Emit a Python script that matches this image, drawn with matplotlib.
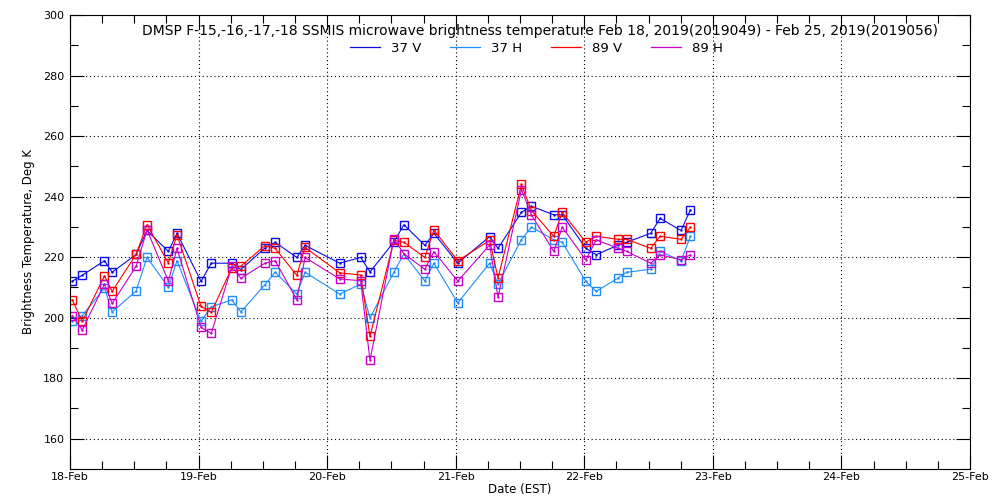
import numpy as np
import matplotlib
matplotlib.use('Agg')
import matplotlib.pyplot as plt
from matplotlib.ticker import MultipleLocator

# time in days after 18-Feb-2019 00:00 (EST)
t = [0.017, 0.095, 0.268, 0.328, 0.514, 0.599, 0.765, 0.832,
     1.019, 1.099, 1.259, 1.329, 1.516, 1.596, 1.764, 1.828,
     2.098, 2.261, 2.333, 2.519, 2.597, 2.760, 2.830,
     3.016, 3.264, 3.329, 3.511, 3.589, 3.762, 3.829,
     4.012, 4.093, 4.259, 4.329, 4.517, 4.590, 4.753, 4.826]

tb_37v = [212.0, 214.0, 218.8, 215.0, 220.9, 228.8, 221.9, 227.9,
          212.0, 218.0, 218.0, 215.9, 223.0, 224.9, 219.9, 223.9,
          218.0, 219.9, 215.1, 225.0, 230.7, 223.9, 227.9,
          218.0, 226.8, 222.9, 234.8, 236.8, 234.0, 234.0,
          222.9, 220.8, 223.9, 224.9, 227.9, 232.8, 228.8, 235.7]

tb_37h = [198.8, 200.7, 209.8, 201.9, 208.8, 219.9, 210.1, 218.8,
          198.8, 203.6, 205.9, 201.9, 210.9, 215.0, 207.8, 215.0,
          207.8, 211.1, 199.9, 215.0, 221.1, 212.1, 218.0,
          204.9, 218.0, 211.1, 225.8, 229.9, 225.8, 224.9,
          212.0, 208.7, 213.0, 215.0, 216.0, 221.9, 218.8, 226.9]

tb_89v = [205.9, 198.8, 213.8, 208.7, 220.9, 230.7, 218.1, 227.4,
          203.7, 201.8, 216.5, 217.0, 223.8, 222.9, 214.0, 223.2,
          214.8, 214.1, 193.8, 225.5, 224.9, 219.9, 229.0,
          218.8, 225.5, 213.1, 244.0, 235.4, 226.9, 234.8,
          224.9, 226.9, 225.9, 225.9, 222.9, 226.9, 225.9, 229.9]

tb_89h = [200.7, 195.9, 211.1, 204.7, 217.0, 229.0, 212.1, 222.9,
          196.8, 194.8, 217.0, 213.0, 218.0, 218.8, 205.9, 219.9,
          212.8, 212.2, 185.9, 226.0, 221.1, 216.0, 221.8,
          212.1, 224.0, 206.7, 242.3, 234.0, 221.9, 229.9,
          219.1, 225.7, 223.0, 221.9, 218.0, 220.8, 219.1, 220.8]

day_labels = ['18-Feb', '19-Feb', '20-Feb', '21-Feb', '22-Feb', '23-Feb', '24-Feb', '25-Feb']

title = ('DMSP F-15,-16,-17,-18 SSMIS microwave brightness temperature '
         'Feb 18, 2019(2019049) - Feb 25, 2019(2019056)')

series = [
    ('37 V', tb_37v, '#0a0ae6'),
    ('37 H', tb_37h, '#1e8cff'),
    ('89 V', tb_89v, '#ff0000'),
    ('89 H', tb_89h, '#c800c8'),
]

fig = plt.figure(figsize=(10, 5), dpi=100)
ax = fig.add_axes([0.070, 0.062, 0.900, 0.908])

for name, vals, col in series:
    ax.plot(t, vals, color=col, lw=0.8, marker='s', markersize=5.5,
            markerfacecolor='none', markeredgecolor=col, markeredgewidth=1.0,
            label=name)
    ax.plot(t, vals, color=col, lw=0, marker='.', markersize=1.5)

ax.set_xlim(0, 7)
ax.set_ylim(150, 300)
ax.set_xticks(np.arange(0, 8))
ax.set_xticklabels(day_labels)
ax.xaxis.set_minor_locator(MultipleLocator(0.25))
ax.yaxis.set_minor_locator(MultipleLocator(10))
ax.set_yticks(np.arange(160, 301, 20))

ax.tick_params(which='both', direction='in', top=True, right=True,
               labelsize=8, color='black', width=0.8)
ax.tick_params(which='major', length=10)
ax.tick_params(which='minor', length=6)
ax.tick_params(axis='x', which='major', pad=2)
ax.tick_params(axis='y', which='major', pad=4)

ax.grid(True, which='major', color='black', linestyle=(0, (1, 2.5)), linewidth=0.8)
for s in ax.spines.values():
    s.set_linewidth(0.8)

ax.set_xlabel('Date (EST)', fontsize=8.5, labelpad=1)
ax.set_ylabel('Brightness Temperature, Deg K', fontsize=8.5, labelpad=6)

ax.text(0.522, 0.964, title, transform=ax.transAxes, ha='center', va='center',
        fontsize=10)

handles = [plt.Line2D([], [], color=col, lw=0.9) for _, _, col in series]
ax.legend(handles, [s[0] for s in series], ncol=4, loc='center',
          bbox_to_anchor=(0.518, 0.927), frameon=False, fontsize=9.5,
          handlelength=2.3, handletextpad=0.8, columnspacing=2.2,
          borderpad=0, borderaxespad=0)

fig.savefig('out.png', dpi=100)
